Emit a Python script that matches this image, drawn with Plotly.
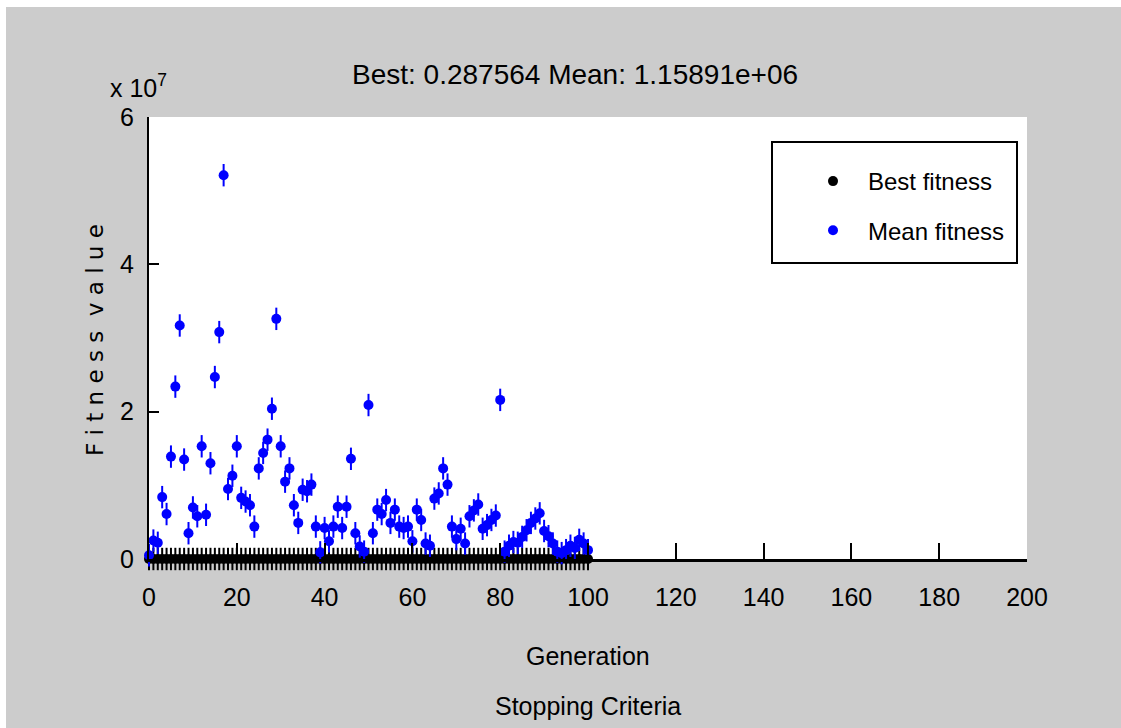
import plotly.graph_objects as go

# ---------------- data ----------------
generations = list(range(0, 101))

mean_fitness_e7 = [
    0.05, 0.25, 0.22, 0.84, 0.61, 1.39, 2.34, 3.17, 1.35, 0.35,
    0.70, 0.58, 1.53, 0.60, 1.30, 2.47, 3.08, 5.21, 0.95, 1.13,
    1.53, 0.83, 0.78, 0.73, 0.44, 1.23, 1.44, 1.62, 2.04, 3.26,
    1.53, 1.05, 1.23, 0.73, 0.49, 0.94, 0.92, 1.01, 0.44, 0.09,
    0.42, 0.24, 0.44, 0.71, 0.42, 0.71, 1.36, 0.35, 0.17, 0.10,
    2.09, 0.35, 0.67, 0.61, 0.80, 0.49, 0.67, 0.44, 0.42, 0.44,
    0.24, 0.67, 0.53, 0.21, 0.18, 0.82, 0.89, 1.23, 1.01, 0.44,
    0.27, 0.41, 0.21, 0.58, 0.66, 0.74, 0.41, 0.46, 0.53, 0.59,
    2.16, 0.10, 0.18, 0.23, 0.22, 0.30, 0.39, 0.49, 0.55, 0.62,
    0.38, 0.31, 0.21, 0.10, 0.08, 0.12, 0.18, 0.15, 0.26, 0.21,
    0.12,
]
mean_fitness = [v * 1e7 for v in mean_fitness_e7]

best_fitness = [
    0.29, 0.29, 0.29, 0.29, 0.29, 0.29, 0.29, 0.29, 0.29, 0.29,
    0.29, 0.29, 0.29, 0.29, 0.29, 0.29, 0.29, 0.29, 0.29, 0.29,
    0.29, 0.29, 0.29, 0.29, 0.29, 0.29, 0.29, 0.29, 0.29, 0.29,
    0.29, 0.29, 0.29, 0.29, 0.29, 0.29, 0.29, 0.29, 0.29, 0.29,
    0.29, 0.29, 0.29, 0.29, 0.29, 0.29, 0.29, 0.29, 0.29, 0.29,
    0.29, 0.29, 0.29, 0.29, 0.29, 0.29, 0.29, 0.29, 0.29, 0.29,
    0.29, 0.29, 0.29, 0.29, 0.29, 0.29, 0.29, 0.29, 0.29, 0.29,
    0.29, 0.29, 0.29, 0.29, 0.29, 0.29, 0.29, 0.29, 0.29, 0.29,
    0.29, 0.29, 0.29, 0.29, 0.29, 0.29, 0.29, 0.29, 0.29, 0.29,
    0.29, 0.29, 0.29, 0.29, 0.29, 0.29, 0.29, 0.29, 0.29, 0.29,
    0.287564,
]

x_ticks = [0, 20, 40, 60, 80, 100, 120, 140, 160, 180, 200]
y_tickvals = [0, 2e7, 4e7, 6e7]
y_ticktext = ["0", "2", "4", "6"]

title_text = "Best: 0.287564 Mean: 1.15891e+06"

# ---------------- figure ----------------
FONT = "Liberation Sans, Arial, sans-serif"

fig = go.Figure()
series = [
    ("Best fitness", best_fitness, "black", "a"),
    ("Mean fitness", mean_fitness, "#0000ff", "b"),
]
for name, ys, col, grp in series:
    fig.add_trace(go.Scatter(
        x=generations, y=ys, mode="markers", name=name, legendgroup=grp,
        marker=dict(symbol="circle", size=10, color=col, line=dict(width=0)),
        cliponaxis=False,
    ))
    fig.add_trace(go.Scatter(
        x=generations, y=ys, mode="markers", name=name, legendgroup=grp,
        showlegend=False, hoverinfo="skip",
        marker=dict(symbol="line-ns", size=16, color=col,
                    line=dict(width=2, color=col)),
        cliponaxis=False,
    ))

L, R, T, B = 149, 94, 117, 169
W, H = 1121, 728
pw, ph = W - L - R, H - T - B


def px(xp):
    return (xp - L) / pw


def py(yp):
    return (H - B - yp) / ph


fig.update_layout(
    width=W, height=H,
    margin=dict(l=L, r=R, t=T, b=B, pad=0),
    paper_bgcolor="#cccccc",
    plot_bgcolor="white",
    showlegend=True,
    legend=dict(
        x=px(798), y=py(159), xanchor="left", yanchor="top",
        bgcolor="rgba(0,0,0,0)", borderwidth=0,
        font=dict(family=FONT, size=24, color="black"),
        tracegroupgap=15, traceorder="grouped", itemwidth=60,
    ),
    xaxis=dict(
        range=[0, 200], tickvals=x_ticks,
        showline=True, linecolor="black", linewidth=3,
        ticks="inside", ticklen=16, tickwidth=2, tickcolor="black",
        showgrid=False, zeroline=False,
        tickfont=dict(family=FONT, size=25, color="black"),
        ticklabelstandoff=14,
    ),
    yaxis=dict(
        range=[0, 6e7], tickvals=y_tickvals, ticktext=y_ticktext,
        showline=True, linecolor="black", linewidth=2,
        ticks="inside", ticklen=10, tickwidth=2, tickcolor="black",
        showgrid=False, zeroline=False,
        tickfont=dict(family=FONT, size=25, color="black"),
        ticklabelstandoff=8,
    ),
    shapes=[
        dict(type="rect", xref="paper", yref="paper",
             x0=px(772), x1=px(1017), y0=py(263), y1=py(142),
             line=dict(color="black", width=2), fillcolor="white", layer="below"),
        dict(type="rect", xref="paper", yref="paper",
             x0=px(0), x1=px(W), y0=py(7), y1=py(0),
             line=dict(width=0), fillcolor="white", layer="below"),
        dict(type="rect", xref="paper", yref="paper",
             x0=px(0), x1=px(6), y0=py(H), y1=py(0),
             line=dict(width=0), fillcolor="white", layer="below"),
    ],
    annotations=[
        dict(text=title_text, xref="paper", yref="paper", x=px(575), y=py(75),
             xanchor="center", yanchor="middle", showarrow=False,
             font=dict(family=FONT, size=28, color="black")),
        dict(text="x 10<sup>7</sup>", xref="paper", yref="paper", x=px(108), y=py(86),
             xanchor="left", yanchor="middle", showarrow=False,
             font=dict(family=FONT, size=25, color="black")),
        dict(text="F i t n e s s  v a l u e", xref="paper", yref="paper",
             x=px(95), y=py(340), textangle=-90,
             xanchor="center", yanchor="middle", showarrow=False,
             font=dict(family="DejaVu Sans", size=23, color="black")),
        dict(text="Generation", xref="paper", yref="paper", x=px(588), y=py(656),
             xanchor="center", yanchor="middle", showarrow=False,
             font=dict(family=FONT, size=25, color="black")),
        dict(text="Stopping Criteria", xref="paper", yref="paper", x=px(588), y=py(706),
             xanchor="center", yanchor="middle", showarrow=False,
             font=dict(family=FONT, size=25, color="black")),
    ],
)

fig.write_html("out.html")
